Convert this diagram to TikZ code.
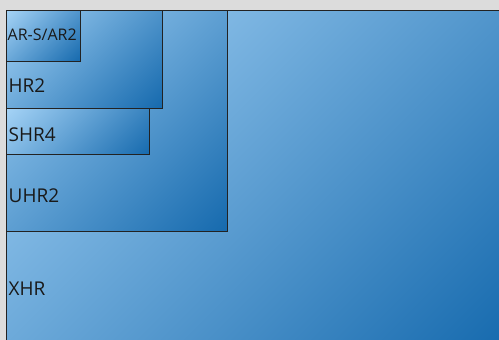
\documentclass[tikz,border=0pt]{standalone}
\usepackage{fontspec}
\setmainfont{Open Sans}
\definecolor{bggray}{RGB}{220,220,220}
\definecolor{lightblue}{RGB}{165,211,246}
\definecolor{darkblue}{RGB}{22,106,174}
\definecolor{edge}{RGB}{34,34,34}
\pgfdeclareverticalshading{diagshade}{100bp}{color(0bp)=(darkblue); color(14.64bp)=(darkblue); color(85.36bp)=(lightblue); color(100bp)=(lightblue)}
\tikzset{
  boxshade/.style={shading=diagshade, shading angle=45, draw=edge, line width=0.9pt},
  biglabel/.style={anchor=base west, inner sep=0pt, font=\fontsize{19}{19}\selectfont, text=black!90},
  smalllabel/.style={anchor=base west, inner sep=0pt, font=\fontsize{16}{16}\selectfont, text=black!90}
}
\begin{document}
\begin{tikzpicture}[x=1pt,y=-1pt]
\useasboundingbox (0,0) rectangle (499,340);
\clip (0,0) rectangle (499,340);
\fill[bggray] (0,0) rectangle (499,340);
% XHR
\shade[boxshade] (6.5,10.5) rectangle (506,348);
% UHR2
\shade[boxshade] (6.5,10.5) rectangle (227.5,231.5);
% HR2
\shade[boxshade] (6.5,10.5) rectangle (162,108);
% SHR4
\shade[boxshade] (6.5,108) rectangle (149.5,154.5);
% AR-S/AR2
\shade[boxshade] (6.5,10.5) rectangle (80.5,61);
\node[smalllabel] (ars) at (7.5,40.7) {AR-S/AR2};
\node[biglabel] (hr2) at (8.5,92.3) {HR2};
\node[biglabel] (shr4) at (8.5,141.7) {SHR4};
\node[biglabel] (uhr2) at (8.5,202.3) {UHR2};
\node[biglabel] (xhr) at (8.5,295.7) {XHR};
\end{tikzpicture}
\end{document}
